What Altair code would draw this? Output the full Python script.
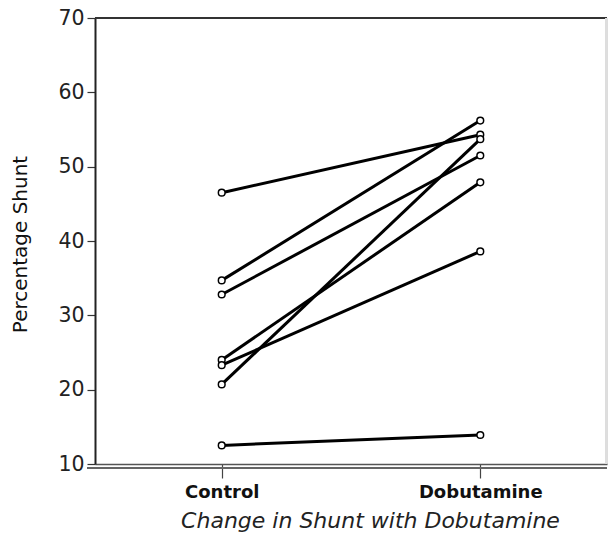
import altair as alt
import pandas as pd

conditions = ["Control", "Dobutamine"]
control = [46.5, 34.7, 32.8, 24.0, 23.3, 20.7, 12.5]
dobutamine = [54.3, 56.2, 51.5, 47.9, 38.6, 53.7, 13.9]

rows = []
for i, (c, d) in enumerate(zip(control, dobutamine)):
    rows.append({"subject": i, "condition": conditions[0], "value": c})
    rows.append({"subject": i, "condition": conditions[1], "value": d})
df = pd.DataFrame(rows)

W, H = 512, 446
FONT = "DejaVu Sans"

x = alt.X("condition:N", scale=alt.Scale(domain=conditions, type="point", padding=0.49),
          axis=alt.Axis(title="Change in Shunt with Dobutamine", labelAngle=0,
                        labelFontWeight="bold", labelFontSize=18, labelColor="#111",
                        labelPadding=5, domainColor="#555", domainWidth=1.5,
                        tickColor="#444", tickSize=14, tickWidth=1.2,
                        titleFontSize=22, titleFontStyle="italic",
                        titleFontWeight="normal", titleColor="#222",
                        titleX=275, titleY=56, titleAlign="center", titleBaseline="middle"))
y = alt.Y("value:Q", scale=alt.Scale(domain=[10, 70], nice=False, zero=False),
          axis=alt.Axis(title="Percentage Shunt", values=[10, 20, 30, 40, 50, 60, 70],
                        labelFontSize=20.5, labelColor="#222", labelPadding=3,
                        domainColor="#222", domainWidth=2,
                        tickColor="#333", tickSize=8, tickWidth=1.2, grid=False,
                        titleFontSize=20, titleFontWeight="normal",
                        titleColor="#111", titleX=-75, titleY=H / 2 + 3,
                        titleAlign="center", titleBaseline="middle"))

base = alt.Chart(df)
lines = base.mark_line(color="black", strokeWidth=3).encode(x=x, y=y, detail="subject:N")
pts = base.mark_point(shape="circle", filled=True, fill="white", stroke="black",
                      strokeWidth=1.5, size=45, opacity=1).encode(x=x, y=y)

top_rule = alt.Chart(df).mark_rule(color="#333", strokeWidth=2).encode(
    x=alt.value(0), x2=alt.value(W), y=alt.value(0))
bottom_rule = alt.Chart(df).mark_rule(color="#666", strokeWidth=1.5).encode(
    x=alt.value(-8), x2=alt.value(W), y=alt.value(H + 4))
right_rule = alt.Chart(df).mark_rule(color="#ddd", strokeWidth=1).encode(
    x=alt.value(W - 1), y=alt.value(0), y2=alt.value(H))

chart = alt.layer(lines, pts, top_rule, bottom_rule, right_rule).properties(
    width=W, height=H,
    padding={"left": 95, "top": 18, "right": 3, "bottom": 73},
    autosize=alt.AutoSizeParams(type="none"),
).configure_view(stroke=None).configure(background="white", font=FONT).configure_axis(
    labelFont=FONT, titleFont=FONT)

chart.save("out.html", embed_options={"renderer": "svg", "actions": False})
